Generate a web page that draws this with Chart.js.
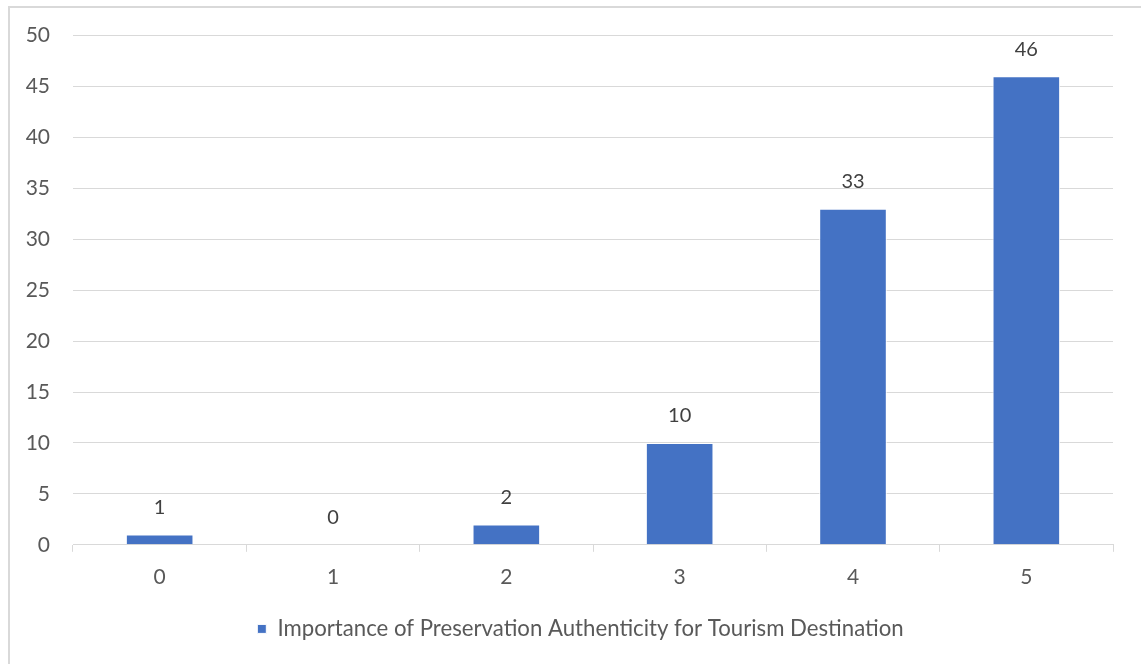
<!DOCTYPE html>
<html>
<head>
<meta charset="utf-8">
<script src="https://cdn.jsdelivr.net/npm/chart.js@4.4.1/dist/chart.umd.min.js"></script>
<style>
  html, body { margin: 0; padding: 0; background: #fff; }
  #wrap { position: relative; width: 1141px; height: 664px; overflow: hidden; }
  #frame { position: absolute; left: 8px; top: 6px; width: 1200px; height: 700px;
           border-left: 2px solid #d9d9d9; border-top: 2px solid #d9d9d9; box-sizing: border-box; }
  canvas { position: absolute; left: 0; top: 0; }
</style>
</head>
<body>
<div id="wrap">
  <div id="frame"></div>
  <canvas id="c" width="1141" height="664"></canvas>
</div>
<script>
const categories = ['0', '1', '2', '3', '4', '5'];
const seriesName = 'Importance of Preservation Authenticity for Tourism Destination';
const seriesValues = [1, 0, 2, 10, 33, 46];
const yTicks = [0, 5, 10, 15, 20, 25, 30, 35, 40, 45, 50];

const FONT = 'Lato, "Open Sans", sans-serif';
const TEXT = '#595959';

// Value printed above each bar
const valueLabels = {
  id: 'valueLabels',
  afterDatasetsDraw(chart) {
    const ctx = chart.ctx;
    const meta = chart.getDatasetMeta(0);
    ctx.save();
    ctx.font = '20px ' + FONT;
    ctx.fillStyle = '#404040';
    ctx.textAlign = 'center';
    ctx.textBaseline = 'middle';
    meta.data.forEach((bar, i) => {
      ctx.fillText(String(seriesValues[i]), bar.x, bar.y - 27);
    });
    ctx.restore();
  }
};

// Centre the legend under the whole frame rather than the padded box
const legendShift = {
  id: 'legendShift',
  afterLayout(chart) {
    if (chart.legend) {
      chart.legend.left += 24;
      chart.legend.right += 24;
    }
  }
};

new Chart(document.getElementById('c'), {
  type: 'bar',
  data: {
    labels: categories,
    datasets: [{
      label: seriesName,
      data: seriesValues,
      backgroundColor: '#4472C4',
      borderColor: '#ffffff',
      borderWidth: 1,
      barPercentage: 0.39,
      categoryPercentage: 1.0
    }]
  },
  options: {
    responsive: false,
    animation: false,
    layout: { padding: { left: 0, right: 28, top: 35, bottom: 14 } },
    plugins: {
      tooltip: { enabled: false },
      legend: {
        position: 'bottom',
        labels: {
          boxWidth: 9, boxHeight: 9, padding: 10,
          color: TEXT,
          font: { family: FONT, size: 22.2 }
        }
      }
    },
    scales: {
      x: {
        grid: { drawOnChartArea: false, drawTicks: true, tickLength: 7, offset: true, color: '#d9d9d9' },
        border: { display: true, color: '#d9d9d9', width: 1 },
        ticks: { color: TEXT, font: { family: FONT, size: 21 }, padding: 13 },
        afterFit(scale) { scale.height = 63; }
      },
      y: {
        min: 0, max: 50,
        afterBuildTicks(scale) { scale.ticks = yTicks.map(v => ({ value: v })); },
        grid: { color: '#d9d9d9', drawTicks: false, lineWidth: 1 },
        border: { display: false },
        ticks: { color: TEXT, font: { family: FONT, size: 21 }, padding: 23 },
        afterFit(scale) { scale.width = 73; }
      }
    }
  },
  plugins: [valueLabels, legendShift]
});
</script>
</body>
</html>
